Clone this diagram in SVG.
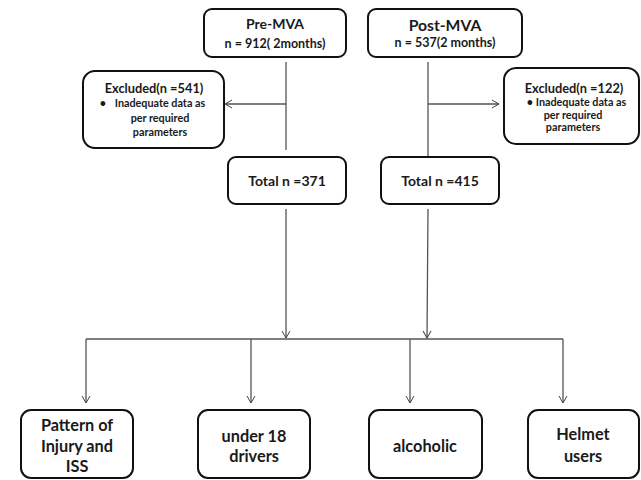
<svg xmlns="http://www.w3.org/2000/svg" width="641" height="480" viewBox="0 0 641 480">
<defs>
<marker id="arr" markerWidth="10" markerHeight="10" refX="8" refY="5" orient="auto" markerUnits="userSpaceOnUse">
<path d="M1,1 L8,5 L1,9" fill="none" stroke="#444" stroke-width="1"/>
</marker>
<style>
.box{fill:#fff;stroke:#111;stroke-width:2}
.ln{fill:none;stroke:#555;stroke-width:1.3}
text{font-family:Lato,"Open Sans","Liberation Sans",sans-serif;font-weight:bold;fill:#1a1a1a;text-anchor:middle}
.t1{font-size:14px}
.t2{font-size:12.5px}
.ex{font-size:12.8px}
.sm{font-size:10.8px}
.tot{font-size:14px}
.bt{font-size:16.3px}
</style>
</defs>
<rect width="641" height="480" fill="#fff"/>
<g id="connectors">
<line class="ln" x1="286" y1="62" x2="286" y2="150"/>
<line class="ln" x1="286" y1="104" x2="225" y2="104" marker-end="url(#arr)"/>
<line class="ln" x1="428" y1="62" x2="428" y2="157"/>
<line class="ln" x1="428" y1="104" x2="499" y2="104" marker-end="url(#arr)"/>
<line class="ln" x1="286" y1="209" x2="286" y2="338" marker-end="url(#arr)"/>
<line class="ln" x1="428" y1="209" x2="427" y2="338" marker-end="url(#arr)"/>
<line class="ln" x1="86" y1="339" x2="563" y2="339"/>
<line class="ln" x1="86" y1="339" x2="86" y2="403" marker-end="url(#arr)"/>
<line class="ln" x1="251" y1="339" x2="251" y2="403" marker-end="url(#arr)"/>
<line class="ln" x1="410" y1="339" x2="410" y2="403" marker-end="url(#arr)"/>
<line class="ln" x1="563" y1="339" x2="563" y2="403" marker-end="url(#arr)"/>
</g>
<g id="pre">
<rect class="box" x="204" y="9" width="142" height="48" rx="8"/>
<text class="t1" x="275" y="29">Pre-MVA</text>
<text class="t2" x="275" y="48">n = 912( 2months)</text>
</g>
<g id="post">
<rect class="box" x="368" y="9" width="154" height="48" rx="8"/>
<text x="445" y="31" style="font-size:15.7px">Post-MVA</text>
<text class="t2" x="445" y="47">n = 537(2 months)</text>
</g>
<g id="excl-left">
<rect class="box" x="83" y="71" width="141" height="77" rx="12"/>
<text class="ex" x="154" y="93">Excluded(n =541)</text>
<text class="sm" x="103" y="107">•</text>
<text class="sm" x="160" y="107">Inadequate data as</text>
<text class="sm" x="160" y="122">per required</text>
<text class="sm" x="160" y="136">parameters</text>
</g>
<g id="excl-right">
<rect class="box" x="504" y="68" width="135" height="76" rx="12"/>
<text class="ex" x="574" y="93">Excluded(n =122)</text>
<text class="sm" x="530" y="106">•</text>
<text class="sm" x="581" y="106">Inadequate data as</text>
<text class="sm" x="573" y="119">per required</text>
<text class="sm" x="573" y="131">parameters</text>
</g>
<g id="total-pre">
<rect class="box" x="228" y="157" width="118" height="47" rx="8"/>
<text class="tot" x="287" y="186">Total n =371</text>
</g>
<g id="total-post">
<rect class="box" x="381" y="157" width="118" height="47" rx="8"/>
<text class="tot" x="440" y="186">Total n =415</text>
</g>
<g id="pattern">
<rect class="box" x="21" y="410" width="112" height="68" rx="10"/>
<text class="bt" x="77" y="431">Pattern of</text>
<text class="bt" x="77" y="452">Injury and</text>
<text class="bt" x="77" y="472">ISS</text>
</g>
<g id="under18">
<rect class="box" x="198" y="410" width="112" height="68" rx="10"/>
<text class="bt" x="254" y="442">under 18</text>
<text class="bt" x="254" y="462">drivers</text>
</g>
<g id="alcoholic">
<rect class="box" x="369" y="410" width="113" height="68" rx="10"/>
<text class="bt" x="425" y="452">alcoholic</text>
</g>
<g id="helmet">
<rect class="box" x="528" y="410" width="111" height="68" rx="10"/>
<text class="bt" x="583" y="440">Helmet</text>
<text class="bt" x="583" y="462">users</text>
</g>
</svg>
